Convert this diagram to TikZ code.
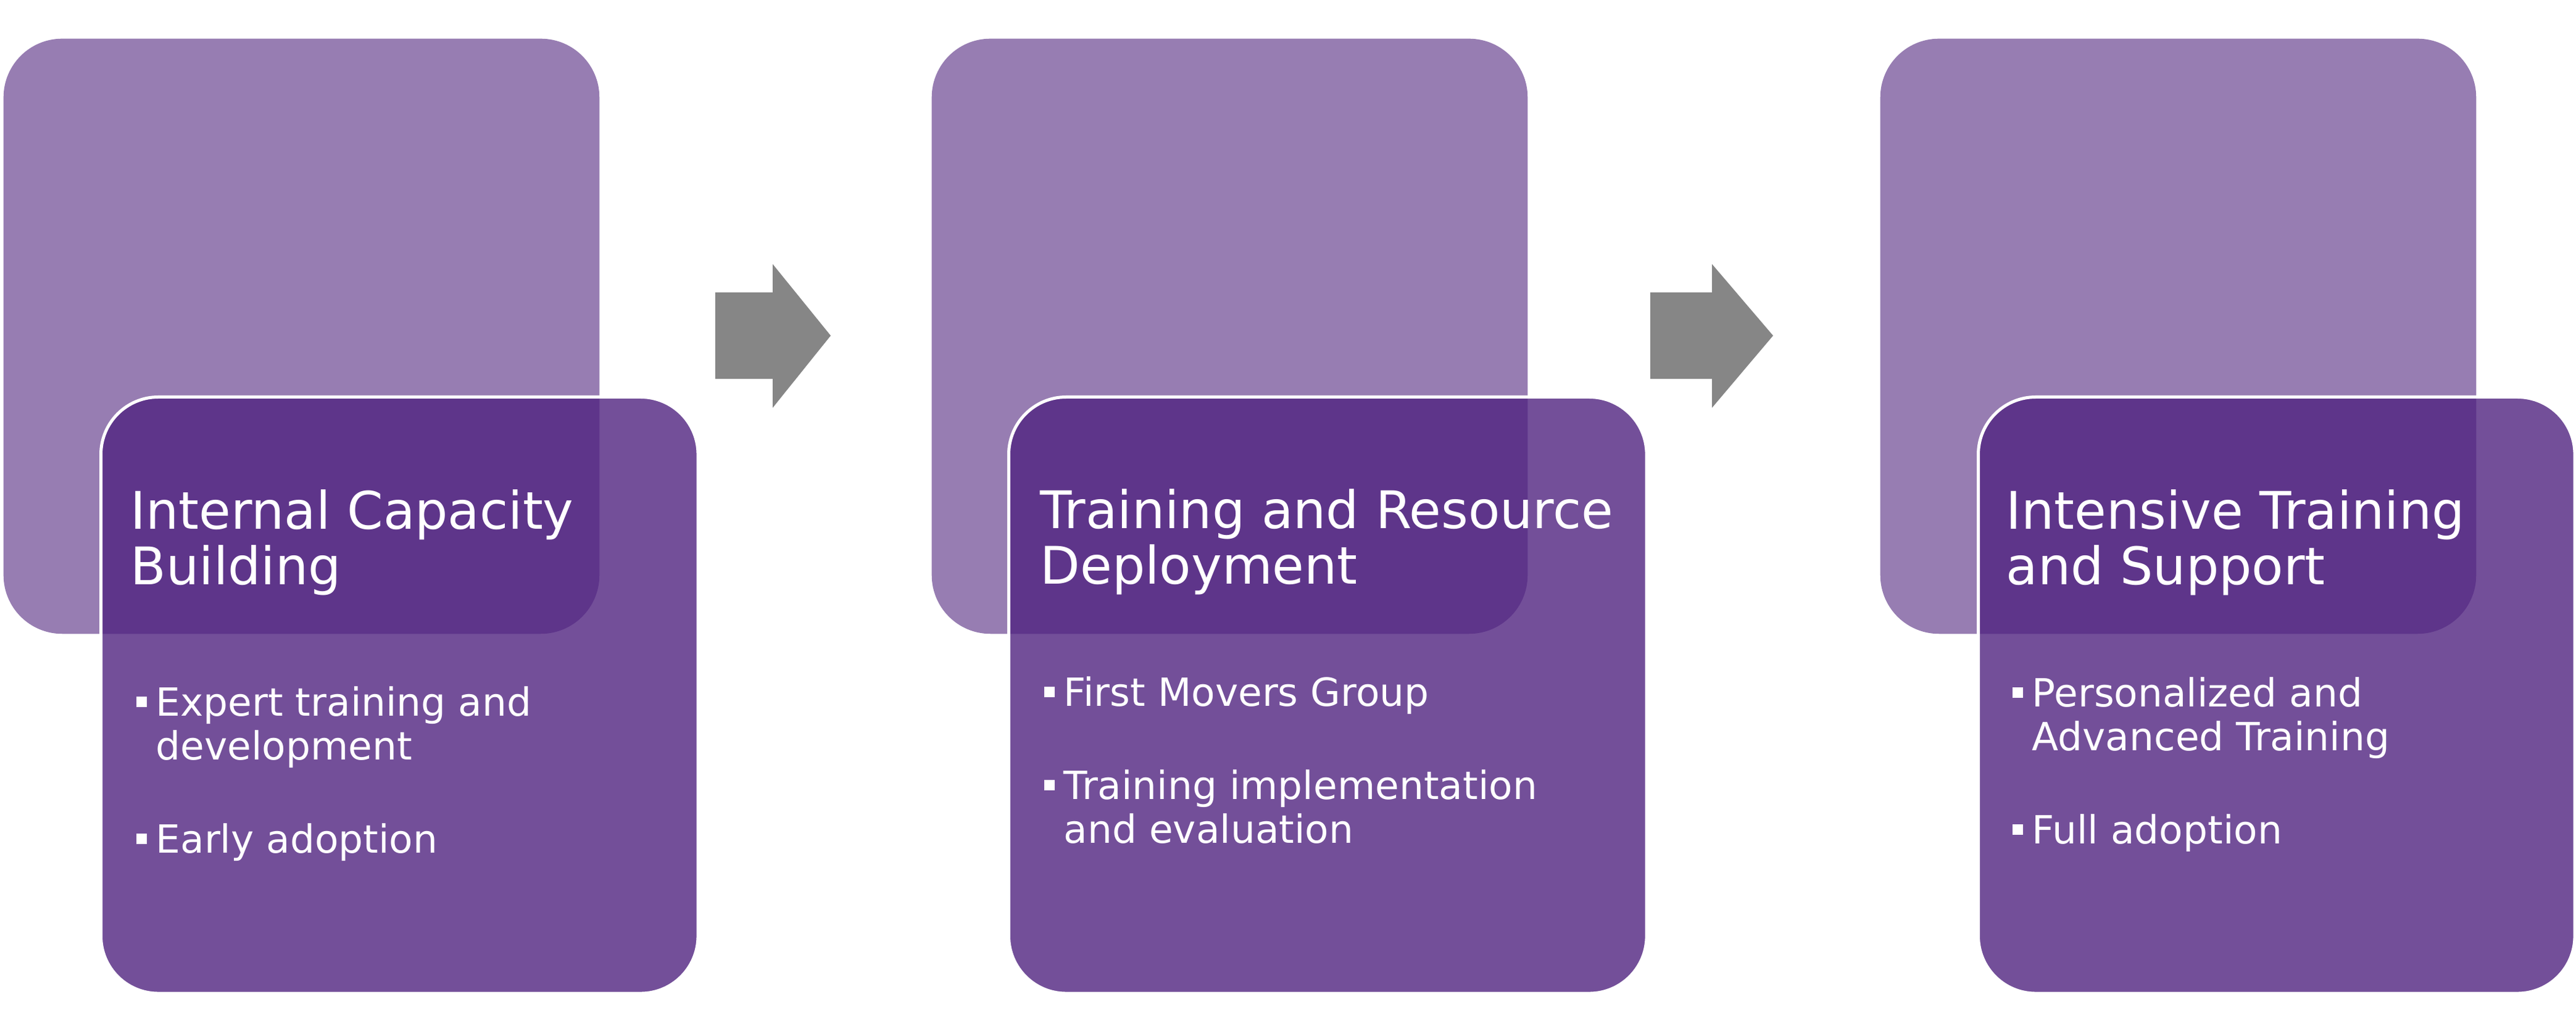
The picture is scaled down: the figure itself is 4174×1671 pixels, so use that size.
\documentclass[tikz,border=0pt]{standalone}
\usepackage{fontspec}
\setmainfont{DejaVu Sans}
\definecolor{backc}{RGB}{151,125,178}
\definecolor{frontc}{RGB}{80,35,128}
\definecolor{arrowc}{RGB}{134,134,134}
\newcommand\sqitem{\makebox[0.32cm][l]{\raisebox{0.145cm}{\rule{0.17cm}{0.17cm}}}}
\newcommand\hang{\hspace*{0.32cm}}
\begin{document}
\begin{tikzpicture}[
x=0.01cm, y=-0.01cm,
backbox/.style = {shape=rectangle, rounded corners=0.95cm, fill=backc, inner sep=0, anchor=north west, minimum width=9.65cm, minimum height=9.64cm},
frontbox/.style = {shape=rectangle, rounded corners=0.93cm, fill=frontc, fill opacity=0.8, draw=white, line width=0.05cm, inner sep=0, anchor=north west, minimum height=9.66cm},
title/.style = {anchor=base west, inner sep=0, align=left, text=white, font=\fontsize{23.9}{25.6}\selectfont},
items/.style = {anchor=base west, inner sep=0, align=left, text=white, font=\fontsize{17.9}{20.2}\selectfont},
]
  \useasboundingbox (0,0) rectangle (4174,1671);
  % back boxes
  \node[backbox] (back1) at (5,62) {};
  \node[backbox] (back2) at (1509,62) {};
  \node[backbox] (back3) at (3046,62) {};
  % front boxes
  \node[frontbox, minimum width=9.67cm] (front1) at (161,641) {};
  \node[frontbox, minimum width=10.33cm] (front2) at (1632,641) {};
  \node[frontbox, minimum width=9.66cm] (front3) at (3203,641) {};
  % arrows
  \foreach \a/\b/\c in {1159/1252/1346, 2674/2774/2873}
    \fill[arrowc] (\a,474) -- (\b,474) -- (\b,428) -- (\c,544) -- (\b,661) -- (\b,614) -- (\a,614) -- cycle;
  % titles (base = last line)
  \node[title] (title1) at (211,948) {Internal Capacity\\Building};
  \node[title] (title2) at (1685,947) {Training and Resource\\Deployment};
  \node[title] (title3) at (3250,948) {Intensive Training\\and Support};
  % bullets
  \node[items] (list1) at (220,1383)
    {\sqitem Expert training and\\ \hang development\\[0.8cm] \sqitem Early adoption};
  \node[items] (list2) at (1691,1367)
    {\sqitem First Movers Group\\[0.8cm] \sqitem Training implementation\\ \hang and evaluation};
  \node[items] (list3) at (3260,1368)
    {\sqitem Personalized and\\ \hang Advanced Training\\[0.8cm] \sqitem Full adoption};
\end{tikzpicture}
\end{document}
